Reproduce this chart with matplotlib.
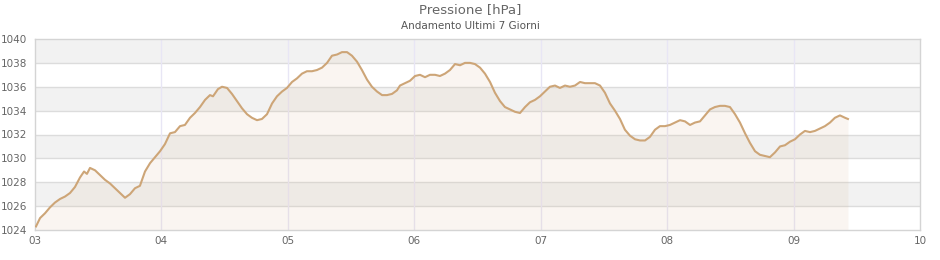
import matplotlib
matplotlib.use("Agg")
import matplotlib.pyplot as plt

days = [3.008, 3.040, 3.079, 3.119, 3.158, 3.198, 3.237, 3.277, 3.316, 3.356,
        3.388, 3.411, 3.435, 3.475, 3.514, 3.554, 3.593, 3.633, 3.672, 3.712,
        3.751, 3.791, 3.830, 3.870, 3.910, 3.949, 3.989, 4.028, 4.068, 4.107,
        4.147, 4.186, 4.226, 4.265, 4.305, 4.345, 4.384, 4.408, 4.447, 4.479,
        4.519, 4.558, 4.598, 4.637, 4.677, 4.716, 4.756, 4.795, 4.835, 4.875,
        4.914, 4.954, 4.993, 5.033, 5.072, 5.112, 5.151, 5.191, 5.230, 5.270,
        5.310, 5.349, 5.389, 5.428, 5.468, 5.507, 5.547, 5.586, 5.626, 5.665,
        5.705, 5.745, 5.784, 5.824, 5.863, 5.887, 5.927, 5.966, 6.006, 6.045,
        6.085, 6.124, 6.164, 6.203, 6.243, 6.282, 6.322, 6.362, 6.401, 6.441,
        6.480, 6.520, 6.559, 6.599, 6.638, 6.678, 6.717, 6.757, 6.797, 6.836,
        6.876, 6.915, 6.955, 6.994, 7.034, 7.073, 7.113, 7.152, 7.192, 7.231,
        7.271, 7.311, 7.350, 7.390, 7.429, 7.469, 7.508, 7.548, 7.587, 7.627,
        7.666, 7.706, 7.746, 7.785, 7.825, 7.864, 7.904, 7.943, 7.983, 8.022,
        8.062, 8.102, 8.141, 8.181, 8.220, 8.260, 8.299, 8.339, 8.378, 8.418,
        8.457, 8.497, 8.537, 8.576, 8.616, 8.655, 8.695, 8.734, 8.774, 8.813,
        8.853, 8.893, 8.932, 8.972, 9.011, 9.051, 9.090, 9.130, 9.169, 9.209,
        9.248, 9.288, 9.327, 9.367, 9.407, 9.430]

pressure = [1024.3, 1025.0, 1025.4, 1025.9, 1026.3, 1026.6, 1026.8, 1027.1, 1027.6, 1028.4,
            1028.9, 1028.7, 1029.2, 1029.0, 1028.6, 1028.2, 1027.9, 1027.5, 1027.1, 1026.7,
            1027.0, 1027.5, 1027.7, 1028.9, 1029.6, 1030.1, 1030.6, 1031.2, 1032.1, 1032.2,
            1032.7, 1032.8, 1033.4, 1033.8, 1034.3, 1034.9, 1035.3, 1035.2, 1035.8, 1036.0,
            1035.9, 1035.4, 1034.8, 1034.2, 1033.7, 1033.4, 1033.2, 1033.3, 1033.7, 1034.6,
            1035.2, 1035.6, 1035.9, 1036.4, 1036.7, 1037.1, 1037.3, 1037.3, 1037.4, 1037.6,
            1038.0, 1038.6, 1038.7, 1038.9, 1038.9, 1038.6, 1038.1, 1037.4, 1036.6, 1036.0,
            1035.6, 1035.3, 1035.3, 1035.4, 1035.7, 1036.1, 1036.3, 1036.5, 1036.9, 1037.0,
            1036.8, 1037.0, 1037.0, 1036.9, 1037.1, 1037.4, 1037.9, 1037.8, 1038.0, 1038.0,
            1037.9, 1037.6, 1037.1, 1036.4, 1035.5, 1034.8, 1034.3, 1034.1, 1033.9, 1033.8,
            1034.3, 1034.7, 1034.9, 1035.2, 1035.6, 1036.0, 1036.1, 1035.9, 1036.1, 1036.0,
            1036.1, 1036.4, 1036.3, 1036.3, 1036.3, 1036.1, 1035.5, 1034.6, 1034.0, 1033.3,
            1032.4, 1031.9, 1031.6, 1031.5, 1031.5, 1031.8, 1032.4, 1032.7, 1032.7, 1032.8,
            1033.0, 1033.2, 1033.1, 1032.8, 1033.0, 1033.1, 1033.6, 1034.1, 1034.3, 1034.4,
            1034.4, 1034.3, 1033.7, 1033.0, 1032.1, 1031.3, 1030.6, 1030.3, 1030.2, 1030.1,
            1030.5, 1031.0, 1031.1, 1031.4, 1031.6, 1032.0, 1032.3, 1032.2, 1032.3, 1032.5,
            1032.7, 1033.0, 1033.4, 1033.6, 1033.4, 1033.3]

x_ticks = [3, 4, 5, 6, 7, 8, 9, 10]
x_labels = ["03", "04", "05", "06", "07", "08", "09", "10"]
y_ticks = [1024, 1026, 1028, 1030, 1032, 1034, 1036, 1038, 1040]

title = "Pressione [hPa]"
subtitle = "Andamento Ultimi 7 Giorni"

fig = plt.figure(figsize=(9.4, 2.6), dpi=100)
ax = fig.add_axes([35/940, 30/260, 885/940, 191/260])

ymin, ymax = y_ticks[0], y_ticks[-1]
# alternating bands
for i in range(len(y_ticks) - 1):
    if i % 2 == 1:
        ax.axhspan(y_ticks[i], y_ticks[i + 1], color="#f2f2f2", zorder=0, lw=0)

for y in y_ticks[1:-1]:
    ax.axhline(y, color="#dcdcdc", lw=1, zorder=1)
for x in x_ticks[1:-1]:
    ax.axvline(x, color="#e8e6f5", lw=1, zorder=1)

ax.fill_between(days, pressure, ymin, color="#d9b48c", alpha=0.12, lw=0, zorder=2)
ax.plot(days, pressure, color="#cda577", lw=1.5, zorder=3)

ax.set_xlim(x_ticks[0], x_ticks[-1])
ax.set_ylim(ymin, ymax)
ax.set_xticks(x_ticks)
ax.set_xticklabels(x_labels)
ax.set_yticks(y_ticks)
ax.tick_params(axis="both", length=0, labelsize=7.5, colors="#666666")
ax.tick_params(axis="x", pad=4.5)
ax.tick_params(axis="y", pad=5.5)
for s in ax.spines.values():
    s.set_color("#d4d4d4")
    s.set_linewidth(1)

fig.text(0.5, 1 - 10/260, title, ha="center", va="center", fontsize=9.5, color="#666666")
fig.text(0.5, 1 - 26/260, subtitle, ha="center", va="center", fontsize=7.5, color="#555555")

fig.savefig("out.png", dpi=100, facecolor="white")
